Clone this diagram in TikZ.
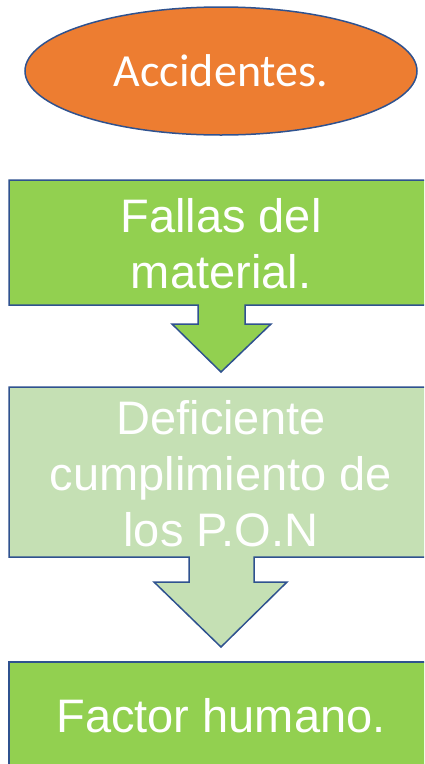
\documentclass[tikz,border=0pt]{standalone}
\usepackage{fontspec}
\setmainfont{Liberation Sans}
\newfontfamily\calibri{Carlito}
\usetikzlibrary{shapes.geometric, positioning}
\definecolor{myorange}{RGB}{237,125,49}
\definecolor{mygreen}{RGB}{146,208,80}
\definecolor{lightgreen}{RGB}{197,224,180}
\definecolor{myborder}{RGB}{47,82,143}

\begin{document}
\begin{tikzpicture}[x=1pt,y=-1pt,
    outline/.style={draw=myborder,line width=1.5pt,line join=miter},
    boxtext/.style={text=white,align=center,anchor=base,font=\fontsize{47}{56}\selectfont}]
    \useasboundingbox (0,0) rectangle (424,764);
    \clip (0,0) rectangle (424,764);

    % Accidentes
    \node[ellipse,outline,fill=myorange,minimum width=392pt,minimum height=128pt,inner sep=0pt,
          text=white,font=\calibri\fontsize{46}{56}\selectfont] (acc) at (221,71) {Accidentes.};

    % Fallas del material
    \filldraw[outline,fill=mygreen] (9,180) -- (433,180) -- (433,305) -- (245,305) -- (245,324)
        -- (271,324) -- (221,372) -- (172,324) -- (198,324) -- (198,305) -- (9,305) -- cycle;
    \node[boxtext] (fallas) at (221,288) {Fallas del\\material.};

    % Deficiente cumplimiento
    \filldraw[outline,fill=lightgreen] (9,387) -- (433,387) -- (433,557) -- (254,557) -- (254,582)
        -- (287,582) -- (221,647) -- (154,582) -- (189,582) -- (189,557) -- (9,557) -- cycle;
    \node[boxtext] (pon) at (221,546) {Deficiente\\cumplimiento de\\los P.O.N};

    % Factor humano
    \filldraw[outline,fill=mygreen] (9,662) rectangle (433,800);
    \node[boxtext] (humano) at (221,732) {Factor humano.};
\end{tikzpicture}
\end{document}
